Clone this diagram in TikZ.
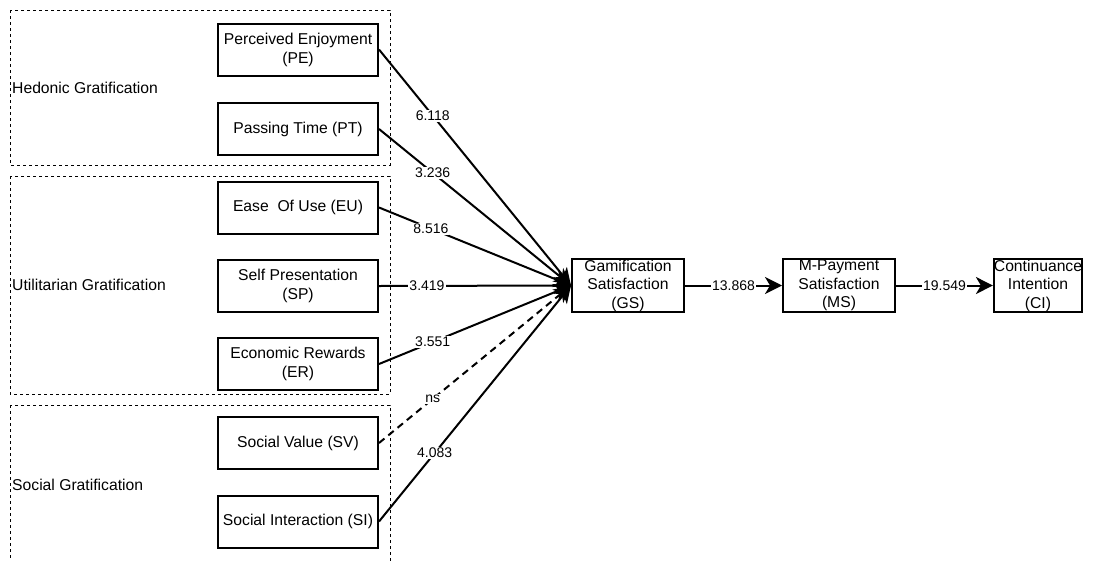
\documentclass[tikz,border=0pt]{standalone}
\usepackage{fontspec}
\setmainfont{Liberation Sans}
\usetikzlibrary{arrows.meta}
\begin{document}
\begin{tikzpicture}[x=1pt,y=-1pt,
  box/.style={draw, line width=2pt, minimum width=160pt, minimum height=52pt,
    align=center, inner sep=0pt, font=\fontsize{15.7}{19}\selectfont},
  mbox/.style={box, minimum width=112pt, minimum height=53pt,
    font=\fontsize{15.7}{18.5}\selectfont},
  grp/.style={draw, dash pattern=on 3pt off 3pt, line width=0.9pt},
  grplbl/.style={anchor=west, inner sep=0pt, font=\fontsize{15.7}{19}\selectfont},
  conn/.style={line width=2pt, -{Stealth[length=17pt,width=17pt,inset=5pt]}},
  lbl/.style={fill=white, inner sep=1pt, font=\fontsize{14}{16}\selectfont}]
\useasboundingbox (0,0) rectangle (1111,560);

% groups
\draw[grp] (10,10) rectangle (390,165);
\draw[grp] (10,176) rectangle (390,394);
\draw[grp] (10,405) rectangle (390,566);
\node[grplbl] (hg) at (12,88) {Hedonic Gratification};
\node[grplbl] (ug) at (12,285) {Utilitarian Gratification};
\node[grplbl] (sg) at (12,485) {Social Gratification};

% antecedents
\node[box] (pe) at (298,49.5) {Perceived Enjoyment\\(PE)};
\node[box] (pt) at (298,129) {Passing Time (PT)};
\node[box] (eu) at (298,207.5) {Ease\ \ Of Use (EU)};
\node[box] (sp) at (298,286) {Self Presentation\\(SP)};
\node[box] (er) at (298,364) {Economic Rewards\\(ER)};
\node[box] (sv) at (298,443) {Social Value (SV)};
\node[box] (si) at (298,521.5) {Social Interaction (SI)};

% chain
\node[mbox] (gs) at (628,285.5) {Gamification\\Satisfaction\\(GS)};
\node[mbox] (ms) at (839,285.5) {M-Payment\\Satisfaction\\(MS)};
\node[mbox, minimum width=88pt] (ci) at (1038,285.5) {Continuance\\Intention\\(CI)};

% connectors
\draw[conn] (pe.east) -- node[lbl,pos=0.28] {6.118} (gs.west);
\draw[conn] (pt.east) -- node[lbl,pos=0.28] {3.236} (gs.west);
\draw[conn] (eu.east) -- node[lbl,pos=0.27] {8.516} (gs.west);
\draw[conn] (sp.east) -- node[lbl,pos=0.25] {3.419} (gs.west);
\draw[conn] (er.east) -- node[lbl,pos=0.28] {3.551} (gs.west);
\draw[conn, dash pattern=on 7pt off 5pt] (sv.east) -- node[lbl,pos=0.28] {ns} (gs.west);
\draw[conn] (si.east) -- node[lbl,pos=0.29] {4.083} (gs.west);
\draw[conn] (gs.east) -- node[lbl] {13.868} (ms.west);
\draw[conn] (ms.east) -- node[lbl] {19.549} (ci.west);
\end{tikzpicture}
\end{document}
